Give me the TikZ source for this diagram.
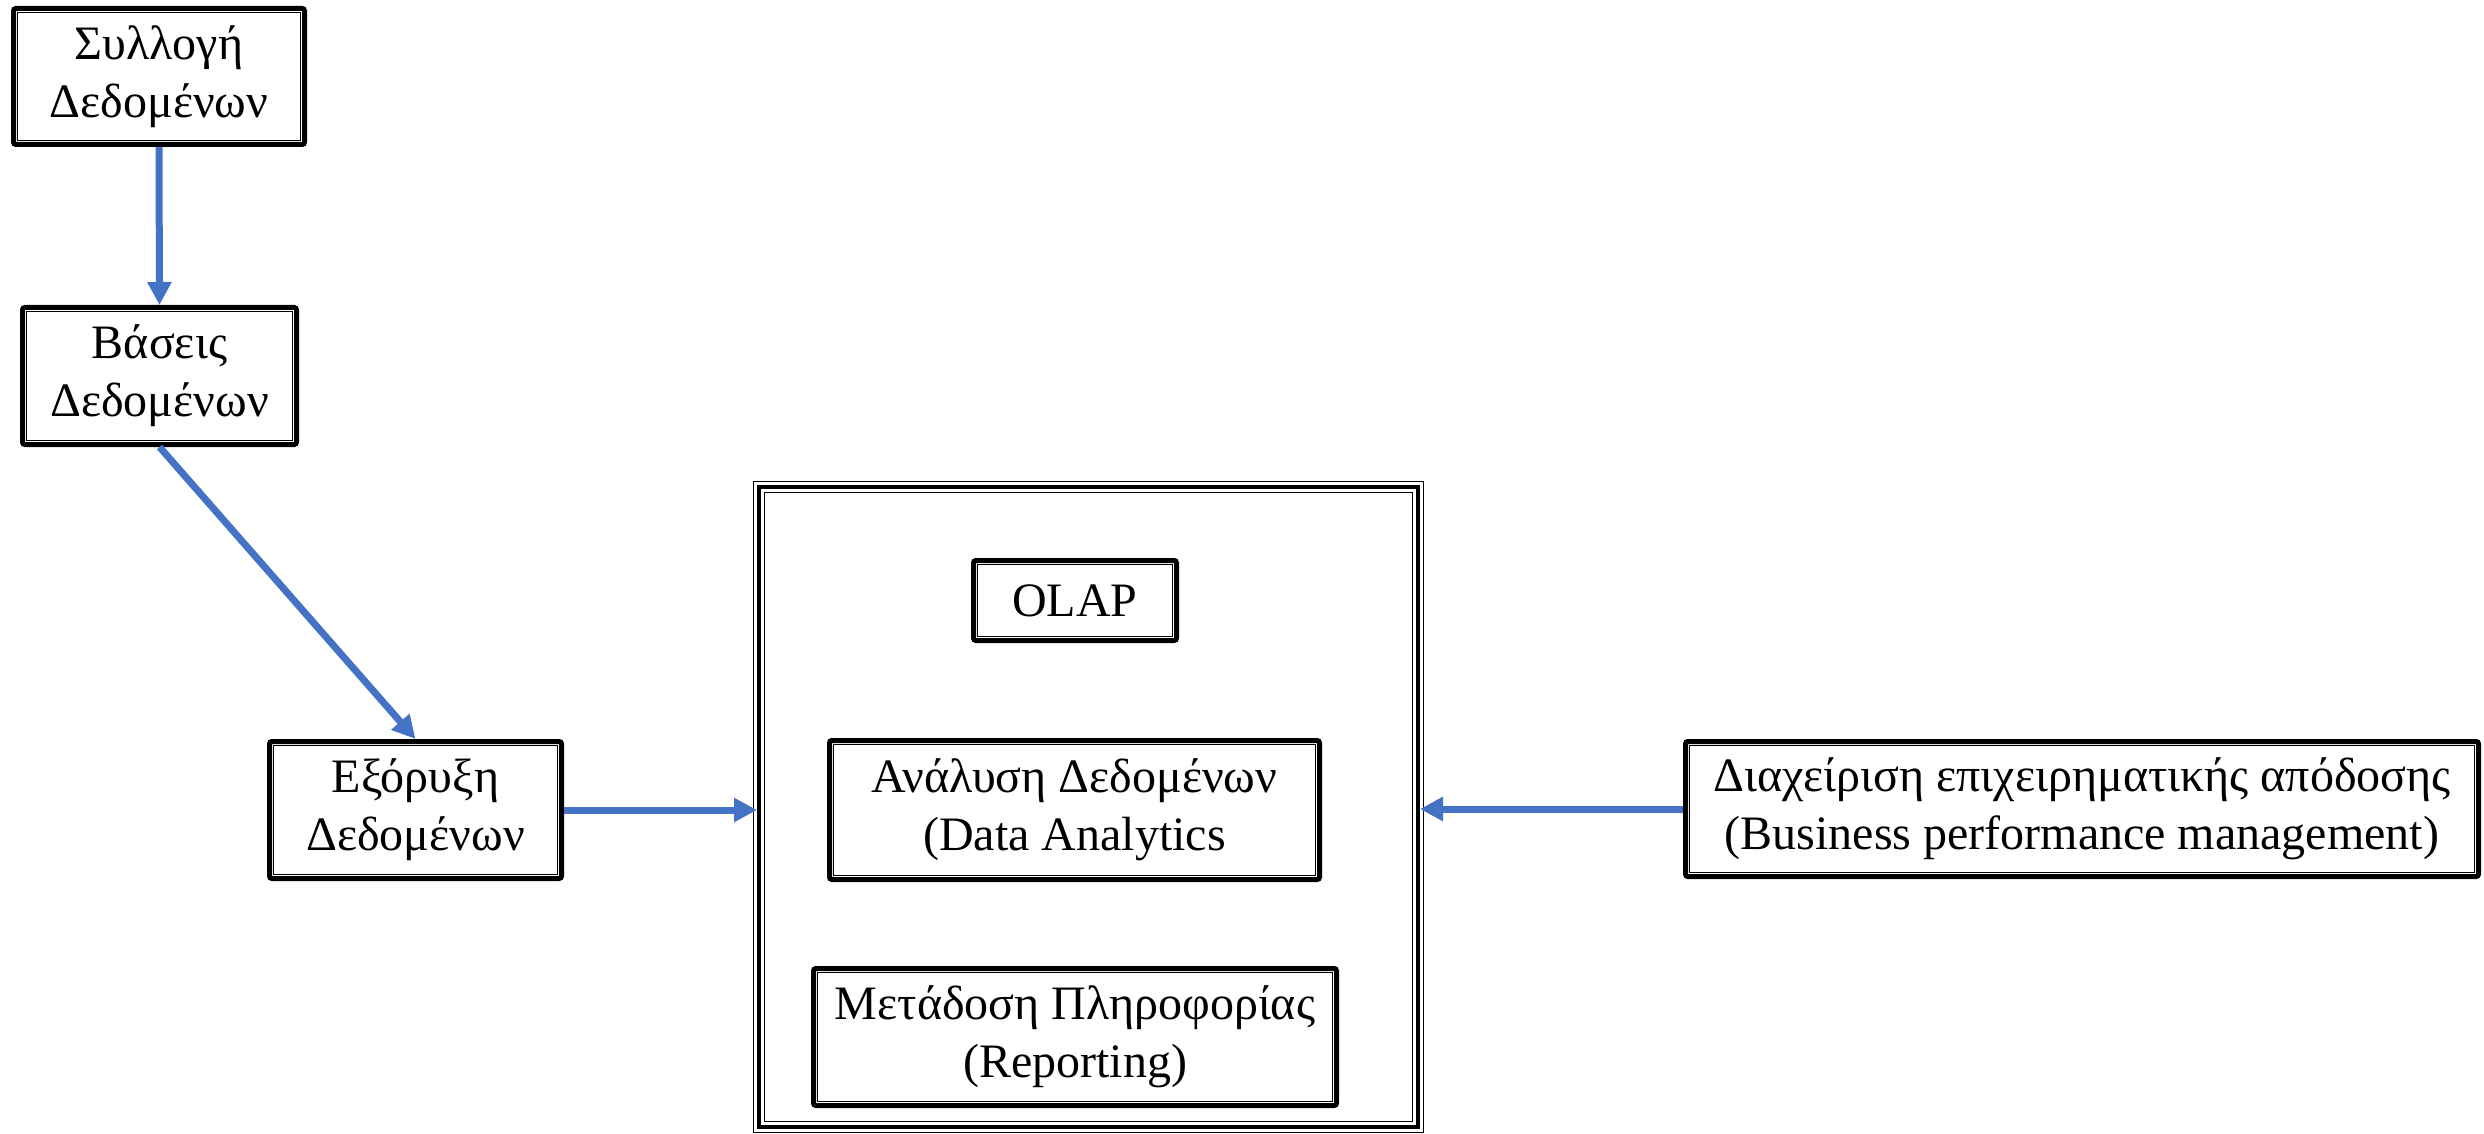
\documentclass[tikz,border=0pt]{standalone}
\usepackage{fontspec}
\setmainfont{Liberation Serif}
\usetikzlibrary{arrows.meta}
\definecolor{arrblue}{HTML}{4472C4}
\tikzset{
  dbox/.style={draw, line width=2.5pt, rounded corners=1.2pt, inner sep=0pt, align=center,
    font=\fontsize{24}{29}\selectfont,
    path picture={\draw[line width=0.75pt, sharp corners]
      ([shift={(2.1pt,-2.1pt)}]path picture bounding box.north west) rectangle
      ([shift={(-2.1pt,2.1pt)}]path picture bounding box.south east);}},
  tbox/.style={draw, line width=2pt, inner sep=0pt,
    preaction={draw, line width=6pt, black},
    preaction={draw, line width=4.6pt, white}},
  arr/.style={draw=arrblue, line width=3.5pt, -{Triangle[length=11.5pt,width=11.5pt]}}
}
\begin{document}
\begin{tikzpicture}[x=0.5pt, y=-0.5pt]
\useasboundingbox (0,0) rectangle (2484,1134);
\node[tbox, minimum width=329.5pt, minimum height=320pt] (big) at (1088.5,807) {};
\node[dbox, minimum width=145.5pt, minimum height=68pt] (syl) at (159,76.5) {Συλλογή\\Δεδομένων};
\node[dbox, minimum width=137pt, minimum height=68.5pt] (bas) at (159.5,376) {Βάσεις\\Δεδομένων};
\node[dbox, minimum width=146pt, minimum height=68.5pt] (exo) at (415.5,810) {Εξόρυξη\\Δεδομένων};
\node[dbox, minimum width=101.5pt, minimum height=40pt] (olap) at (1075,600.5) {OLAP};
\node[dbox, minimum width=245pt, minimum height=69.5pt] (ana) at (1074.5,810) {Ανάλυση Δεδομένων\\(Data Analytics};
\node[dbox, minimum width=261.5pt, minimum height=68.5pt] (met) at (1075,1037) {Μετάδοση Πληροφορίας\\(Reporting)};
\node[dbox, minimum width=396.5pt, minimum height=67.5pt] (dia) at (2082,809) {Διαχείριση επιχειρηματικής απόδοσης\\(Business performance management)};
\draw[arr] (syl.south) -- (bas.north);
\draw[arr] (bas.south) -- (exo.north);
\draw[arr] (exo.east) -- (exo.east -| big.west);
\draw[arr] (dia.west) -- (dia.west -| big.east);
\end{tikzpicture}
\end{document}
